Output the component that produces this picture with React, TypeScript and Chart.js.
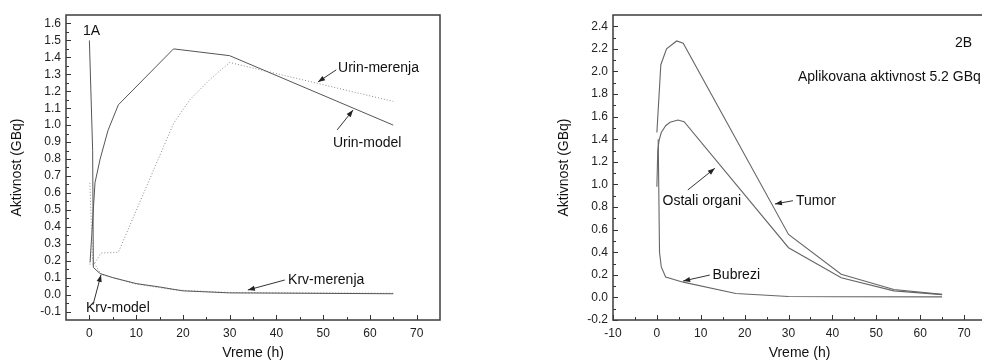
import React, { useEffect, useRef } from "react";
import Chart from "chart.js/auto";

// ---------- Chart 1A data ----------
const krvModelX = [0, 0.7, 0.85, 2.3, 5, 10, 15, 20, 30, 65];
const krvModelY = [1.5, 0.85, 0.16, 0.124, 0.1, 0.065, 0.045, 0.022, 0.01, 0.005];
const krvMerenjaX = [0.1, 0.7, 2.5, 10, 18, 30, 65];
const krvMerenjaY = [0.66, 0.2, 0.12, 0.062, 0.028, 0.012, 0.008];
const urinModelX = [0.15, 1.2, 2.3, 4, 6.2, 18, 30, 65];
const urinModelY = [0.19, 0.66, 0.8, 0.97, 1.12, 1.45, 1.41, 1.0];
const urinMerenjaX = [0, 1, 2.5, 6.2, 18, 21.5, 25.8, 30, 65];
const urinMerenjaY = [0.18, 0.18, 0.245, 0.25, 1.01, 1.15, 1.27, 1.37, 1.14];

const xTicksA = [0, 10, 20, 30, 40, 50, 60, 70];
const yTicksA = [-0.1, 0, 0.1, 0.2, 0.3, 0.4, 0.5, 0.6, 0.7, 0.8, 0.9, 1.0, 1.1, 1.2, 1.3, 1.4, 1.5, 1.6];

// ---------- Chart 2B data ----------
const tumorX = [0, 0.9, 2.2, 4.5, 6, 30, 42, 54, 65];
const tumorY = [1.46, 2.06, 2.2, 2.27, 2.25, 0.557, 0.205, 0.07, 0.027];
const ostaliX = [0, 0.2, 0.5, 1, 2, 3, 4.8, 6.2, 30, 42, 54, 65];
const ostaliY = [0.98, 1.3, 1.39, 1.46, 1.52, 1.55, 1.57, 1.555, 0.44, 0.174, 0.058, 0.025];
const bubreziX = [0.3, 0.6, 1, 2, 6, 18, 30, 42, 65];
const bubreziY = [1.4, 0.4, 0.27, 0.18, 0.135, 0.035, 0.008, 0.006, 0.005];

const xTicksB = [-10, 0, 10, 20, 30, 40, 50, 60, 70];
const yTicksB = [-0.2, 0, 0.2, 0.4, 0.6, 0.8, 1.0, 1.2, 1.4, 1.6, 1.8, 2.0, 2.2, 2.4];

// ---------- text ----------
const xTitle = "Vreme (h)";
const yTitle = "Aktivnost (GBq)";

const notesA = [
  { text: "1A", x: -1.37, y: 1.556 },
  { text: "Urin-merenja", x: 53.2, y: 1.338, ax: [52.8, 1.326, 48.9, 1.255] },
  { text: "Urin-model", x: 52.1, y: 0.895, ax: [53.0, 0.972, 56.4, 1.089] },
  { text: "Krv-merenja", x: 42.5, y: 0.086, ax: [41.8, 0.086, 33.9, 0.027] },
  { text: "Krv-model", x: -0.73, y: -0.079, ax: [0.77, -0.061, 2.48, 0.116] },
];
const notesB = [
  { text: "2B", x: 67.95, y: 2.252 },
  { text: "Aplikovana aktivnost 5.2 GBq", x: 32.14, y: 1.951 },
  { text: "Tumor", x: 31.7, y: 0.856, ax: [31.0, 0.856, 26.9, 0.827] },
  { text: "Ostali organi", x: 1.28, y: 0.856, ax: [7.05, 0.951, 13.2, 1.143] },
  { text: "Bubrezi", x: 12.68, y: 0.198, ax: [12.06, 0.198, 5.98, 0.145] },
];

const FONT = "'Liberation Sans', Arial, Helvetica, sans-serif";
const pts = (xs: number[], ys: number[]) => xs.map((x, i) => ({ x, y: ys[i] }));

const decor = {
  id: "decor",
  afterDraw(chart: any, _args: any, o: any) {
    const { ctx, chartArea: a } = chart;
    const x = chart.scales.x;
    const y = chart.scales.y;
    ctx.save();
    // ticks (inward)
    ctx.strokeStyle = "#333";
    ctx.lineWidth = 1;
    ctx.beginPath();
    const xt = (v: number, len: number) => {
      const p = Math.round(x.getPixelForValue(v)) + 0.5;
      ctx.moveTo(p, a.bottom);
      ctx.lineTo(p, a.bottom - len);
    };
    const yt = (v: number, len: number) => {
      const p = Math.round(y.getPixelForValue(v)) + 0.5;
      ctx.moveTo(a.left, p);
      ctx.lineTo(a.left + len, p);
    };
    o.xMajor.forEach((v: number) => xt(v, 5));
    o.xMajor.forEach((v: number) => {
      const m = v + o.xMinorStep;
      if (m < x.max) xt(m, 3);
    });
    o.yMajor.forEach((v: number) => yt(v, 5));
    o.yMajor.forEach((v: number) => {
      const m = v + o.yMinorStep;
      if (m < y.max) yt(m, 3);
    });
    ctx.stroke();
    // frame
    ctx.strokeStyle = "#3c3c3c";
    ctx.lineWidth = 1.5;
    ctx.strokeRect(a.left, a.top, a.right - a.left, a.bottom - a.top);
    // titles
    ctx.fillStyle = "#111";
    ctx.font = `14px ${FONT}`;
    ctx.textAlign = "center";
    ctx.textBaseline = "middle";
    ctx.fillText(o.xTitle, (a.left + a.right) / 2, o.xTitleY);
    ctx.save();
    ctx.translate(o.yTitleX, (a.top + a.bottom) / 2);
    ctx.rotate(-Math.PI / 2);
    ctx.fillText(o.yTitle, 0, 0);
    ctx.restore();
    // notes
    ctx.textAlign = "left";
    o.notes.forEach((n: any) => {
      ctx.fillStyle = "#111";
      ctx.fillText(n.text, x.getPixelForValue(n.x), y.getPixelForValue(n.y));
      if (n.ax) {
        const x1 = x.getPixelForValue(n.ax[0]);
        const y1 = y.getPixelForValue(n.ax[1]);
        const x2 = x.getPixelForValue(n.ax[2]);
        const y2 = y.getPixelForValue(n.ax[3]);
        ctx.strokeStyle = "#333";
        ctx.lineWidth = 1;
        ctx.beginPath();
        ctx.moveTo(x1, y1);
        ctx.lineTo(x2, y2);
        ctx.stroke();
        const ang = Math.atan2(y2 - y1, x2 - x1);
        const L = 7, W = 2.6;
        ctx.fillStyle = "#222";
        ctx.beginPath();
        ctx.moveTo(x2, y2);
        ctx.lineTo(x2 - L * Math.cos(ang) + W * Math.sin(ang), y2 - L * Math.sin(ang) - W * Math.cos(ang));
        ctx.lineTo(x2 - L * Math.cos(ang) - W * Math.sin(ang), y2 - L * Math.sin(ang) + W * Math.cos(ang));
        ctx.closePath();
        ctx.fill();
      }
    });
    ctx.restore();
  },
};

function makeConfig(p: any) {
  return {
    type: "line",
    data: { datasets: p.datasets },
    plugins: [decor],
    options: {
      animation: false,
      responsive: false,
      devicePixelRatio: 1,
      layout: { padding: { left: 0, top: 15, right: p.padRight, bottom: 0 } },
      plugins: {
        legend: { display: false },
        tooltip: { enabled: false },
        decor: p.decor,
      },
      elements: { point: { radius: 0 }, line: { tension: 0 } },
      scales: {
        x: {
          type: "linear",
          min: p.xMin,
          max: p.xMax,
          grid: { display: false, drawTicks: false },
          border: { display: false },
          ticks: {
            font: { family: FONT, size: 12 },
            color: "#222",
            padding: 6,
            maxRotation: 0,
            autoSkip: false,
            callback: (v: any) => String(v),
          },
          afterBuildTicks: (s: any) => {
            s.ticks = p.xTicks.map((v: number) => ({ value: v }));
          },
          afterFit: (s: any) => {
            s.height = 41;
          },
        },
        y: {
          type: "linear",
          min: p.yMin,
          max: p.yMax,
          grid: { display: false, drawTicks: false },
          border: { display: false },
          ticks: {
            font: { family: FONT, size: 12 },
            color: "#222",
            padding: 5,
            autoSkip: false,
            callback: (v: any) => Number(v).toFixed(1),
          },
          afterBuildTicks: (s: any) => {
            s.ticks = p.yTicks.map((v: number) => ({ value: v }));
          },
          afterFit: (s: any) => {
            s.width = p.yWidth;
          },
        },
      },
    },
  };
}

const solid = (data: any, color: string, w = 1) => ({
  data,
  borderColor: color,
  borderWidth: w,
  pointRadius: 0,
  fill: false,
});
const dotted = (data: any, color: string) => ({
  data,
  borderColor: color,
  borderWidth: 1,
  borderDash: [1, 2],
  pointRadius: 0,
  fill: false,
});

export default function App() {
  const refA = useRef<HTMLCanvasElement>(null);
  const refB = useRef<HTMLCanvasElement>(null);

  useEffect(() => {
    const cA = new Chart(
      refA.current as HTMLCanvasElement,
      makeConfig({
        datasets: [
          solid(pts(krvModelX, krvModelY), "#555"),
          dotted(pts(krvMerenjaX, krvMerenjaY), "#8a8a8a"),
          solid(pts(urinModelX, urinModelY), "#555"),
          dotted(pts(urinMerenjaX, urinMerenjaY), "#8a8a8a"),
        ],
        xMin: -5,
        xMax: 75,
        yMin: -0.15,
        yMax: 1.65,
        xTicks: xTicksA,
        yTicks: yTicksA,
        yWidth: 66,
        padRight: 50,
        decor: {
          xMajor: xTicksA,
          xMinorStep: 5,
          yMajor: yTicksA,
          yMinorStep: 0.05,
          xTitle,
          yTitle,
          xTitleY: 353,
          yTitleX: 17,
          notes: notesA,
        },
      }) as any
    );
    const cB = new Chart(
      refB.current as HTMLCanvasElement,
      makeConfig({
        datasets: [
          solid(pts(tumorX, tumorY), "#666", 1.1),
          solid(pts(ostaliX, ostaliY), "#666", 1.1),
          solid(pts(bubreziX, bubreziY), "#666", 1.1),
        ],
        xMin: -10,
        xMax: 75,
        yMin: -0.2,
        yMax: 2.5,
        xTicks: xTicksB,
        yTicks: yTicksB,
        yWidth: 123,
        padRight: 14,
        decor: {
          xMajor: xTicksB,
          xMinorStep: 5,
          yMajor: yTicksB,
          yMinorStep: 0.1,
          xTitle,
          yTitle,
          xTitleY: 353,
          yTitleX: 74.5,
          notes: notesB,
        },
      }) as any
    );
    return () => {
      cA.destroy();
      cB.destroy();
    };
  }, []);

  return (
    <div
      style={{
        position: "fixed",
        left: 0,
        top: 0,
        width: 982,
        height: 361,
        overflow: "hidden",
        background: "#fff",
      }}
    >
      <canvas
        ref={refA}
        width={490}
        height={361}
        style={{ position: "absolute", left: 0, top: 0, width: 490, height: 361 }}
      />
      <canvas
        ref={refB}
        width={510}
        height={361}
        style={{ position: "absolute", left: 490, top: 0, width: 510, height: 361 }}
      />
    </div>
  );
}
